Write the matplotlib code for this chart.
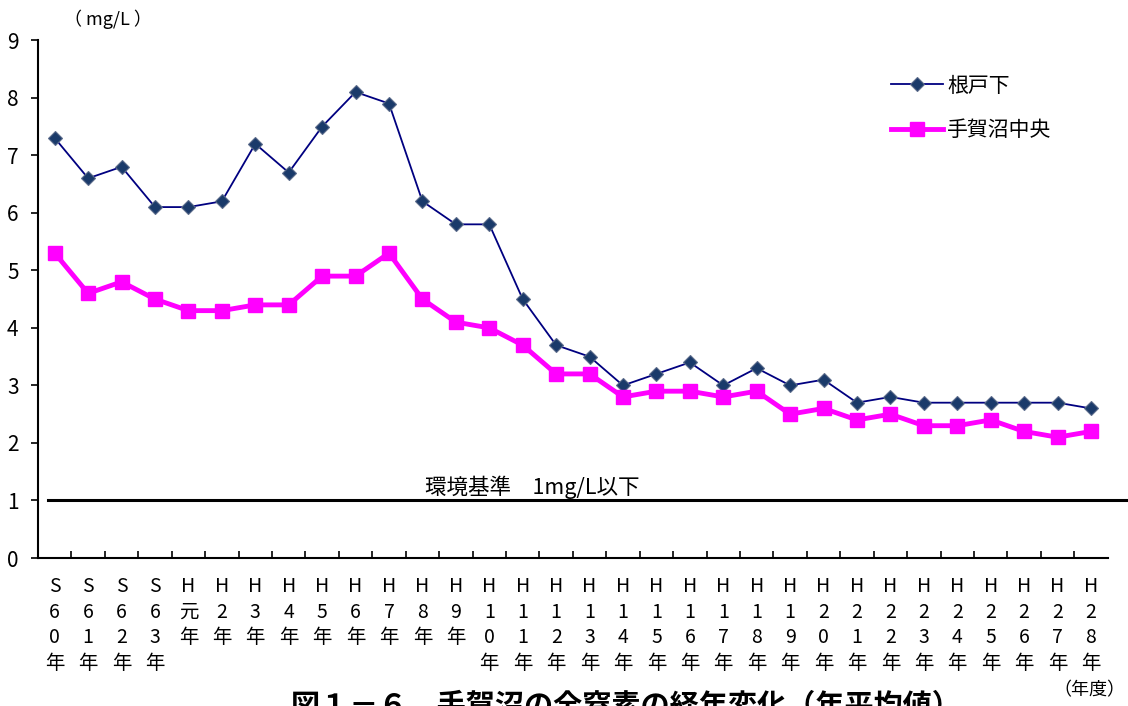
import matplotlib
matplotlib.use('Agg')
import matplotlib.pyplot as plt

plt.rcParams['font.family'] = ['Noto Sans CJK JP', 'DejaVu Sans']

years = ['S60', 'S61', 'S62', 'S63', 'H元', 'H2', 'H3', 'H4', 'H5', 'H6', 'H7', 'H8', 'H9',
         'H10', 'H11', 'H12', 'H13', 'H14', 'H15', 'H16', 'H17', 'H18', 'H19', 'H20',
         'H21', 'H22', 'H23', 'H24', 'H25', 'H26', 'H27', 'H28']
nedo_shita = [7.3, 6.6, 6.8, 6.1, 6.1, 6.2, 7.2, 6.7, 7.5, 8.1, 7.9, 6.2, 5.8, 5.8, 4.5, 3.7,
              3.5, 3.0, 3.2, 3.4, 3.0, 3.3, 3.0, 3.1, 2.7, 2.8, 2.7, 2.7, 2.7, 2.7, 2.7, 2.6]
teganuma_center = [5.3, 4.6, 4.8, 4.5, 4.3, 4.3, 4.4, 4.4, 4.9, 4.9, 5.3, 4.5, 4.1, 4.0, 3.7, 3.2,
                   3.2, 2.8, 2.9, 2.9, 2.8, 2.9, 2.5, 2.6, 2.4, 2.5, 2.3, 2.3, 2.4, 2.2, 2.1, 2.2]
standard = 1.0


def stack_label(s):
    # vertical label: one character per line, 年 at the end
    return '\n'.join(list(s) + ['年'])


fig = plt.figure(figsize=(11.28, 7.06), dpi=100)
ax = fig.add_axes([0.0337, 0.2096, 0.9483, 0.7334])

x = list(range(len(years)))
ax.plot(x, nedo_shita, color='#000080', lw=1.3, marker='D', ms=7.5,
        markerfacecolor='#1a3a6a', markeredgecolor='#5a6a8a', markeredgewidth=0.8,
        label='根戸下', zorder=3)
ax.plot(x, teganuma_center, color='#FF00FF', lw=3.5, marker='s', ms=10,
        markerfacecolor='#FF00FF', markeredgecolor='#FF00FF', label='手賀沼中央', zorder=3)

ax.plot([-0.2, len(years) + 0.1], [standard, standard], color='black', lw=2.2, clip_on=False)
ax.text(14.3, standard + 0.02, '環境基準　1mg/L以下', ha='center', va='bottom', fontsize=15.5)

ax.set_xlim(-0.5, len(years) - 0.5)
ax.set_ylim(0, 9)
ax.set_yticks(range(0, 10))
ax.tick_params(axis='y', direction='out', length=5, width=1.2, labelsize=15, pad=9)

ax.set_xticks([i + 0.5 for i in range(len(years) - 1)])
ax.set_xticklabels([])
ax.tick_params(axis='x', direction='in', length=5, width=1.2)
for i, y in enumerate(years):
    ax.text(i, -0.32, stack_label(y), ha='center', va='top', fontsize=14,
            linespacing=1.28)

for s in ['top', 'right']:
    ax.spines[s].set_visible(False)
for s in ['left', 'bottom']:
    ax.spines[s].set_linewidth(1.5)

leg = ax.legend(loc='upper left', bbox_to_anchor=(0.78, 0.97), frameon=False,
                fontsize=15, handlelength=2.5, labelspacing=1.1, handletextpad=0.2)

fig.text(0.057, 0.973, '（ mg/L ）', ha='left', va='center', fontsize=13)
fig.text(0.998, 0.022, '（年度）', ha='right', va='center', fontsize=13)
fig.text(0.555, 0.0, '図１－６　手賀沼の全窒素の経年変化（年平均値）', ha='center',
         va='center', fontsize=21, fontweight='bold')

fig.savefig('out.png', dpi=100)
